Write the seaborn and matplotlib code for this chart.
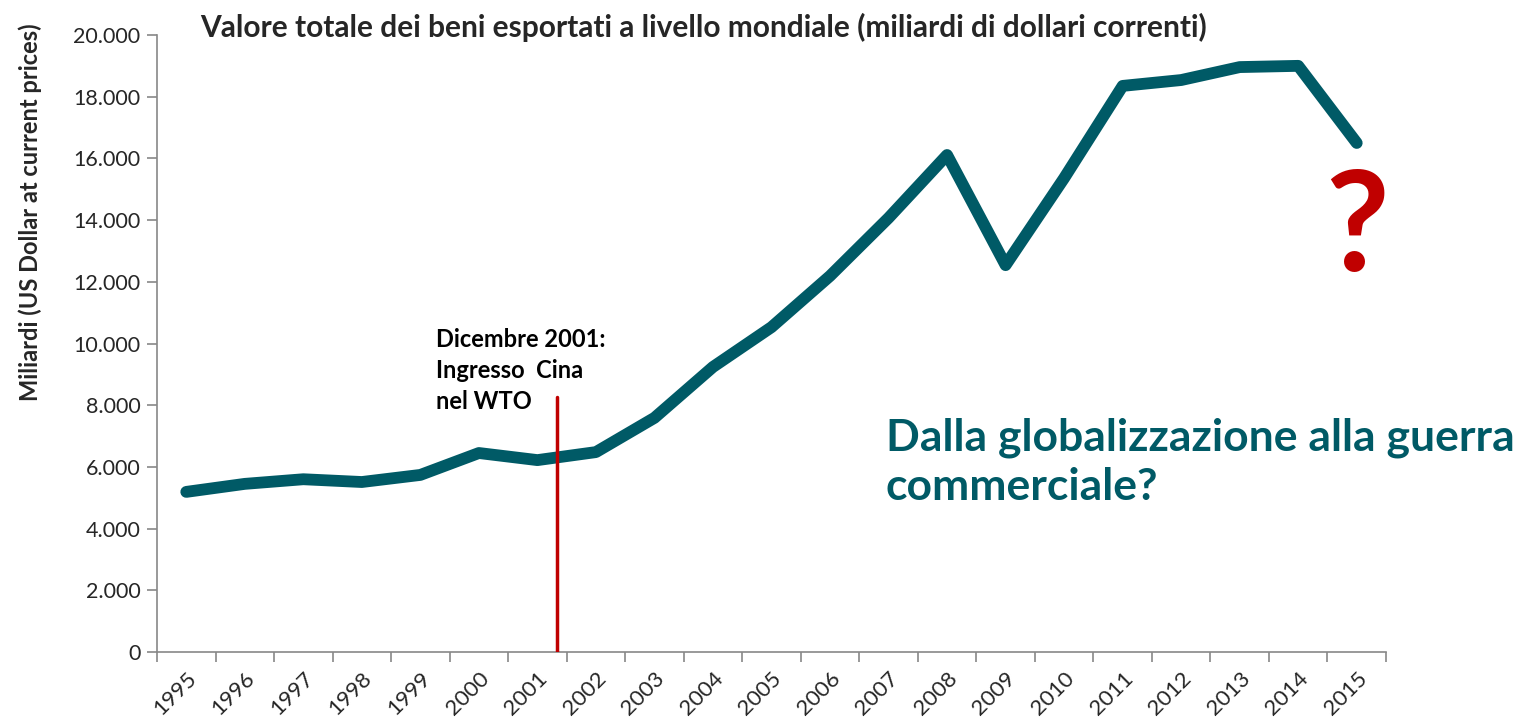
import matplotlib
matplotlib.use('Agg')
import matplotlib.pyplot as plt
import seaborn as sns
import pandas as pd
from matplotlib.ticker import FuncFormatter, FixedLocator

# world merchandise exports, billions of current US dollars
years = [str(y) for y in range(1995, 2016)]
exports = [5190, 5450, 5600, 5510, 5740, 6450, 6220, 6480, 7590, 9240, 10530,
           12190, 14070, 16110, 12540, 15360, 18350, 18540, 18960, 19000, 16500]

title = 'Valore totale dei beni esportati a livello mondiale (miliardi di dollari correnti)'
ylabel = 'Miliardi (US Dollar at current prices)'
wto_note = 'Dicembre 2001:\nIngresso  Cina\nnel WTO'
wto_pos = 6.33  # december 2001, between the 2001 and 2002 categories
headline = 'Dalla globalizzazione alla guerra\ncommerciale?'

teal = '#005A66'
red = '#C00000'

sns.set_theme(style='white')
plt.rcParams['font.family'] = ['Lato', 'DejaVu Sans']

df = pd.DataFrame({'year': years, 'exports': exports})

fig = plt.figure(figsize=(15.22, 7.24), dpi=100)
ax = fig.add_axes([157 / 1522, 1 - 652 / 724, (1386 - 157) / 1522, (652 - 35) / 724])

sns.lineplot(data=df, x='year', y='exports', ax=ax, color=teal, linewidth=8.5,
             solid_joinstyle='round', solid_capstyle='round')

ax.set_xlim(-0.5, len(years) - 0.5)
ax.set_ylim(0, 20000)
ax.set_yticks(range(0, 20001, 2000))
ax.yaxis.set_major_formatter(FuncFormatter(lambda v, p: f'{int(v):,}'.replace(',', '.')))

# category axis: tick marks between categories, labels centred
ax.xaxis.set_minor_locator(FixedLocator([i - 0.5 for i in range(len(years) + 1)]))
ax.tick_params(axis='x', which='major', length=0, pad=12)
ax.tick_params(axis='x', which='minor', length=7, color='#888888', width=1.2, bottom=True)
ax.tick_params(axis='y', length=7, color='#888888', width=1.2, left=True, labelsize=15.5, pad=5)
plt.setp(ax.get_xticklabels(), rotation=45, ha='right', rotation_mode='anchor', fontsize=16)

for side in ['top', 'right']:
    ax.spines[side].set_visible(False)
for side in ['left', 'bottom']:
    ax.spines[side].set_color('#888888')
    ax.spines[side].set_linewidth(1.2)
ax.set_xlabel('')
ax.set_ylabel('')

ax.plot([wto_pos, wto_pos], [0, 8270], color=red, linewidth=2.5, zorder=3)
ax.text(4.26, 10500, wto_note, fontsize=17, fontweight='bold', va='top', ha='left',
        linespacing=1.42, color='black')

ax.text(11.95, 7600, headline, fontsize=32, fontweight='bold', color=teal,
        va='top', ha='left', linespacing=1.28)
ax.text(20.0, 11600, '?', fontsize=100, fontweight='bold', color=red,
        ha='center', va='bottom')

fig.text(200 / 1522, 1 - 27 / 724, title, fontsize=21.5, fontweight='bold', va='center', ha='left')
fig.text(30 / 1522, 1 - 212 / 724, ylabel, fontsize=17, fontweight='bold',
         rotation=90, va='center', ha='center')

fig.savefig('out.png', dpi=100, facecolor='white')
plt.close()
